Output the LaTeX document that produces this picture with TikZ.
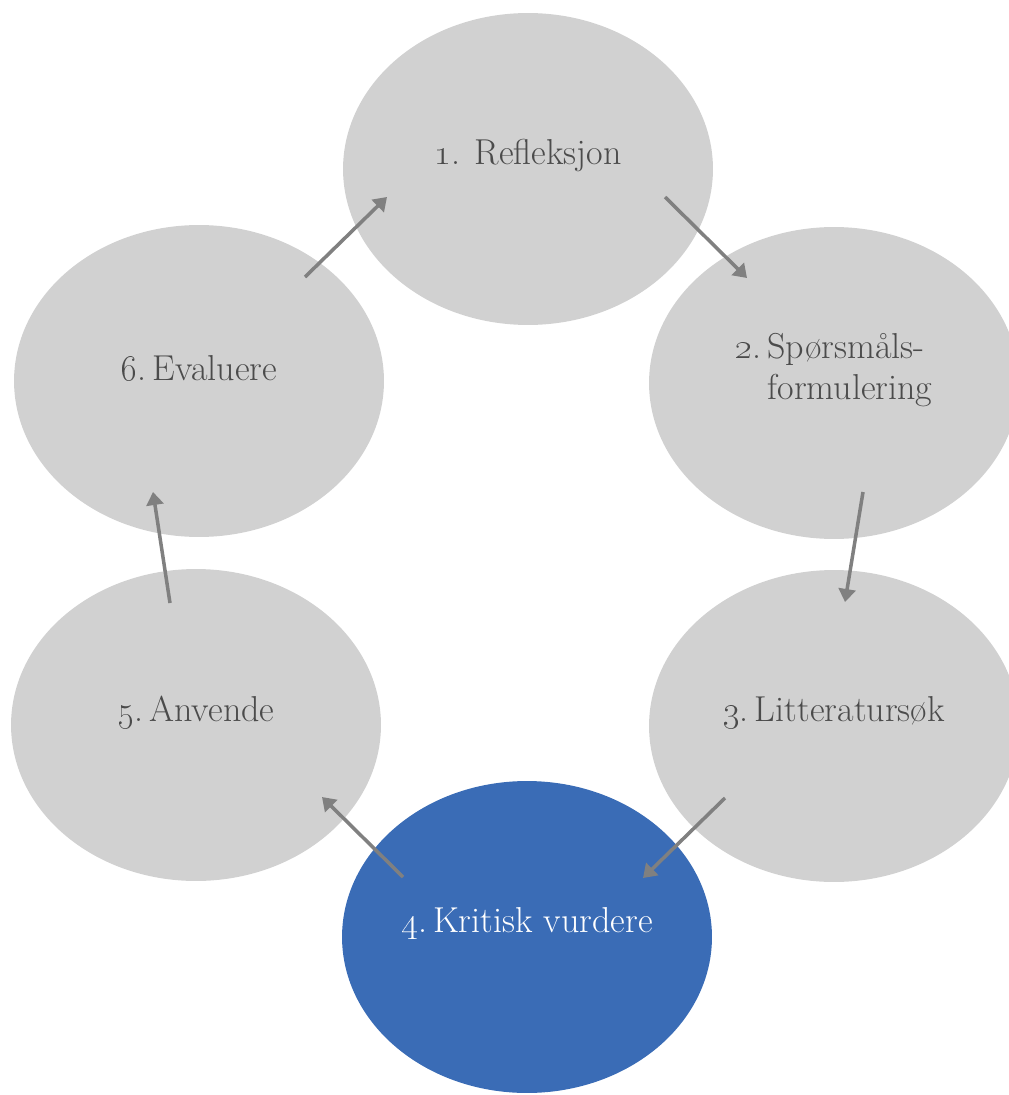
\documentclass[tikz,border=0pt]{standalone}
\usepackage{tikz}
\usetikzlibrary{shapes.geometric,arrows.meta}
\definecolor{stagegray}{RGB}{209,209,209}
\definecolor{stageblue}{RGB}{58,108,182}
\definecolor{textgray}{RGB}{75,75,75}
\definecolor{arrowgray}{RGB}{128,128,128}

\begin{document}
\begin{tikzpicture}[x=0.02cm, y=-0.02cm,
    stage/.style={ellipse, fill=stagegray, minimum width=7.4cm, minimum height=6.24cm, inner sep=0pt},
    lbl/.style={text=textgray, font=\fontsize{20.5}{23}\selectfont, align=left, yshift=0.26cm},
    flow/.style={draw=arrowgray, line width=2pt, -{Triangle[length=0.26cm,width=0.34cm]}}]
  \useasboundingbox (0,0) rectangle (1008,1095);
  % the gray stages of the cycle
  \foreach \n/\x/\y/\t in {1/528/169/{\oldstylenums{1}. Refleksjon},
                           2/834/383/{\oldstylenums{2}.\,Spørsmåls-\\\phantom{\oldstylenums{2}.\,}formulering},
                           3/834/726/{\oldstylenums{3}.\,Litteratursøk},
                           5/196/725/{\oldstylenums{5}.\,Anvende},
                           6/199/381/{\oldstylenums{6}.\,Evaluere}}{
    \node[stage, label={[lbl]center:\t}] (e\n) at (\x,\y) {};
  }
  % the current stage
  \node[stage, fill=stageblue, label={[lbl, text=white]center:\oldstylenums{4}.\,Kritisk vurdere}] (e4) at (527,937) {};

  % arrow ends
  \coordinate (t61) at (305,277); \coordinate (h61) at (387,197);
  \coordinate (t12) at (665,197); \coordinate (h12) at (747,278);
  \coordinate (t23) at (863,492); \coordinate (h23) at (845,602);
  \coordinate (t34) at (725,798); \coordinate (h34) at (643,878);
  \coordinate (t45) at (403,877); \coordinate (h45) at (322,797);
  \coordinate (t56) at (170,603); \coordinate (h56) at (153,492);
  \foreach \s in {61,12,23,34,45,56}{
    \draw[flow] (t\s) -- (h\s);
  }
\end{tikzpicture}
\end{document}
